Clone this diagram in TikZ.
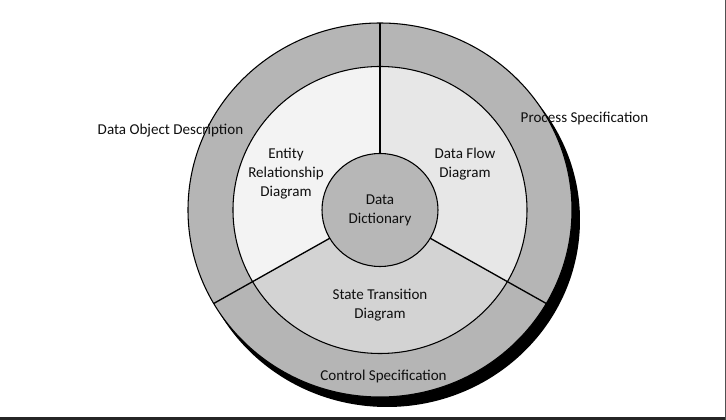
\documentclass[tikz,border=0pt]{standalone}
\usepackage{fontspec}
\setmainfont{Carlito}
\usetikzlibrary{positioning}
\definecolor{ringgray}{RGB}{181,181,181}
\definecolor{erdgray}{RGB}{243,243,243}
\definecolor{dfdgray}{RGB}{231,231,231}
\definecolor{stdgray}{RGB}{211,211,211}
\definecolor{ddgray}{RGB}{183,183,183}
\definecolor{txtgray}{RGB}{15,15,15}
\definecolor{bardark}{RGB}{38,38,38}
\tikzset{every picture/.style={line width=0.8pt}}
\tikzstyle{lbl}=[align=center,inner sep=0pt,text=txtgray]
\tikzstyle{divider}=[draw=black,line width=1pt]

\begin{document}
\begin{tikzpicture}
  [x=0.75pt,y=0.75pt,font=\fontsize{11.3}{14.3}\selectfont]
\useasboundingbox (-380,-210) rectangle (346,210);
% frame edges of the screenshot
\fill[bardark] (-380,-210) rectangle (346,-207.5);
\fill[bardark!80] (344.8,-210) rectangle (346,210);
% shadow and outer ring
\fill[black] (7,-10) ellipse [x radius=193, y radius=187];
\filldraw[fill=ringgray,draw=black] (0,0) ellipse [x radius=192, y radius=187];
% middle ring sectors
\fill[erdgray] (0,0) -- (90:147 and 143.5)
  arc[start angle=90, end angle=210, x radius=147, y radius=143.5] -- cycle;
\fill[dfdgray] (0,0) -- (-30:147 and 143.5)
  arc[start angle=-30, end angle=90, x radius=147, y radius=143.5] -- cycle;
\fill[stdgray] (0,0) -- (210:147 and 143.5)
  arc[start angle=210, end angle=330, x radius=147, y radius=143.5] -- cycle;
\draw (0,0) ellipse [x radius=147, y radius=143.5];
\filldraw[fill=ddgray,draw=black] (0,0) ellipse [x radius=58, y radius=56.5];
% divider ends
\coordinate (i1) at (90:58 and 56.5);
\coordinate (o1) at (90:192 and 187);
\coordinate (i2) at (210:58 and 56.5);
\coordinate (o2) at (210:192 and 187);
\coordinate (i3) at (330:58 and 56.5);
\coordinate (o3) at (330:192 and 187);
\path[divider]
(i1) edge (o1)
(i2) edge (o2)
(i3) edge (o3);
% labels
\node[lbl] (dd) at (0,-0.5) {Data\\Dictionary};
\node[lbl] (erd) at (-94,36) {Entity\\Relationship\\Diagram};
\node[lbl] (dfd) at (85,46) {Data Flow\\Diagram};
\node[lbl] (std) at (0,-95.5) {State Transition\\Diagram};
\node[lbl] (dod) at (-209.5,79) {Data Object Description};
\node[lbl] (ps) at (204.5,91) {Process Specification};
\node[lbl] (cs) at (3.5,-166.5) {Control Specification};
\end{tikzpicture}
\end{document}
